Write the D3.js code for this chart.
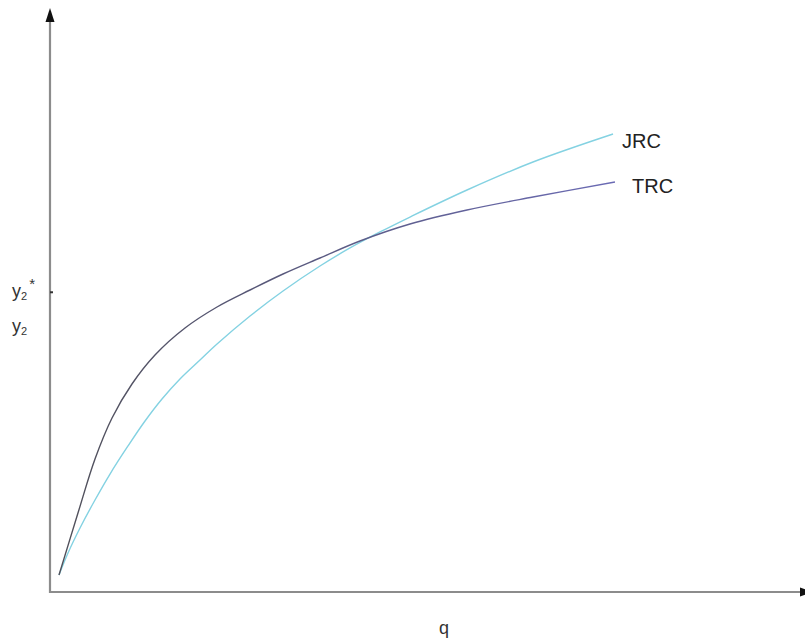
<!DOCTYPE html>
<html>
<head>
<meta charset="utf-8">
<script src="https://cdn.jsdelivr.net/npm/d3@7"></script>
<style>
  html, body { margin: 0; padding: 0; background: #fff; }
  svg { display: block; font-family: "Liberation Sans", Arial, sans-serif; }
</style>
</head>
<body>
<svg id="chart" width="805" height="641"></svg>
<script>
// values (q on x, cost on y, both 0..100)
const trcQ = [1.2, 3.73, 6.0, 8.27, 10.93, 14.0, 18.0, 22.27, 26.67, 31.07, 36.0, 41.33, 48.0, 55.6, 64.4, 75.33]
const trcV = [2.92, 13.57, 22.85, 29.9, 35.74, 40.72, 45.36, 48.97, 51.89, 54.64, 57.39, 60.31, 63.23, 65.64, 67.87, 70.45]

const jrcQ = [1.2, 2.4, 4.0, 6.0, 8.0, 10.4, 12.67, 14.93, 17.33, 20.0, 22.27, 26.67, 31.07, 36.0, 40.0, 44.0, 48.0, 55.6, 64.4, 75.07]
const jrcV = [2.92, 6.7, 11.0, 15.81, 20.27, 25.09, 29.38, 33.16, 36.6, 39.86, 42.61, 47.42, 51.72, 56.01, 59.11, 61.86, 64.43, 69.07, 73.88, 78.69]

const seriesNames = ["TRC", "JRC"]
const yTickValues = [51.5, 45.6]   // y2*, y2
const xLabel = "q"

const svg = d3.select('#chart')

const x0 = 50, y0 = 592
const xScale = d3.scaleLinear().domain([0, 100]).range([x0, 800])
const yScale = d3.scaleLinear().domain([0, 100]).range([y0, 10])

// gradient for the dark curve (grey near origin, purplish at the end)
const defs = svg.append('defs')
const grad = defs.append('linearGradient')
    .attr('id', 'trcGrad')
    .attr('gradientUnits', 'userSpaceOnUse')
    .attr('x1', xScale(0)).attr('x2', xScale(76))
    .attr('y1', 0).attr('y2', 0)
grad.append('stop').attr('offset', '0%').attr('stop-color', '#505058')
grad.append('stop').attr('offset', '45%').attr('stop-color', '#5a5a80')
grad.append('stop').attr('offset', '100%').attr('stop-color', '#6b6bb5')

// axes
const axisG = svg.append('g')
axisG.append('line')
    .attr('x1', x0).attr('y1', 18).attr('x2', x0).attr('y2', y0 + 1)
    .attr('stroke', '#8c8c8c').attr('stroke-width', 2.2)
axisG.append('line')
    .attr('x1', x0 - 1).attr('y1', y0).attr('x2', 802).attr('y2', y0)
    .attr('stroke', '#8c8c8c').attr('stroke-width', 2.2)
axisG.append('path')
    .attr('d', `M${x0},8 L${x0 - 4.5},22 L${x0 + 4.5},22 Z`)
    .attr('fill', '#111')
axisG.append('path')
    .attr('d', `M813,${y0} L800,${y0 - 4.5} L800,${y0 + 4.5} Z`)
    .attr('fill', '#111')

// small tick at y2*
axisG.append('line')
    .attr('x1', x0).attr('x2', x0 + 3)
    .attr('y1', yScale(yTickValues[0])).attr('y2', yScale(yTickValues[0]))
    .attr('stroke', '#333').attr('stroke-width', 2)

// curves
const line = d3.line()
    .x(d => xScale(d[0]))
    .y(d => yScale(d[1]))
    .curve(d3.curveCatmullRom.alpha(0.5))

const jrcData = jrcQ.map((q, i) => [q, jrcV[i]])
const trcData = trcQ.map((q, i) => [q, trcV[i]])

svg.append('path')
    .datum(jrcData)
    .attr('d', line)
    .attr('fill', 'none')
    .attr('stroke', '#84d2e2')
    .attr('stroke-width', 1.4)

svg.append('path')
    .datum(trcData)
    .attr('d', line)
    .attr('fill', 'none')
    .attr('stroke', 'url(#trcGrad)')
    .attr('stroke-width', 1.4)

// curve labels
svg.append('text')
    .attr('x', 622).attr('y', 148)
    .attr('font-size', 20).attr('fill', '#222')
    .text(seriesNames[1])
svg.append('text')
    .attr('x', 632).attr('y', 193)
    .attr('font-size', 20).attr('fill', '#222')
    .text(seriesNames[0])

// y labels
const yl1 = svg.append('text')
    .attr('x', 12).attr('y', yScale(yTickValues[0]) + 5)
    .attr('font-size', 18).attr('fill', '#333')
yl1.append('tspan').text('y')
yl1.append('tspan').attr('font-size', 11).attr('dy', 3).text('2')
yl1.append('tspan').attr('font-size', 15).attr('dy', -11).attr('dx', 2).text('*')

const yl2 = svg.append('text')
    .attr('x', 12).attr('y', yScale(yTickValues[1]) + 5)
    .attr('font-size', 18).attr('fill', '#333')
yl2.append('tspan').text('y')
yl2.append('tspan').attr('font-size', 11).attr('dy', 3).text('2')

// x label
svg.append('text')
    .attr('x', 439).attr('y', 634)
    .attr('font-size', 18).attr('fill', '#333')
    .text(xLabel)
</script>
</body>
</html>
